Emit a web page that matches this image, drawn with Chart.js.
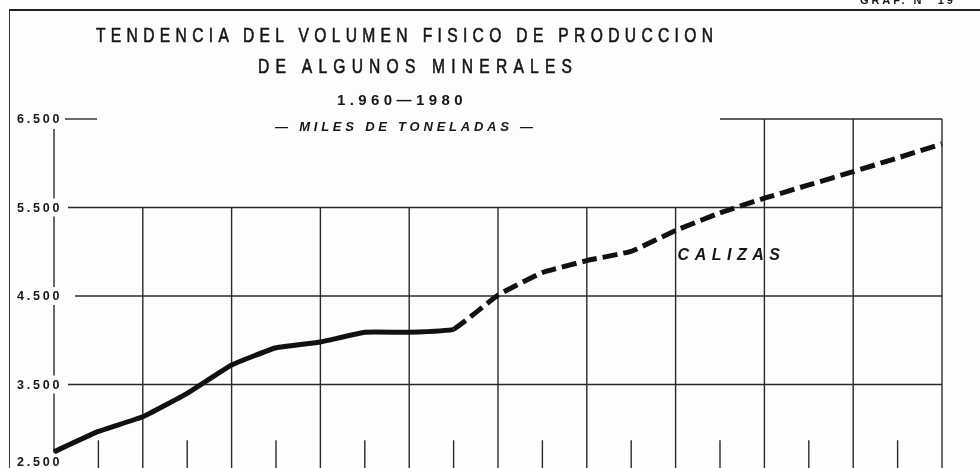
<!DOCTYPE html>
<html>
<head>
<meta charset="utf-8">
<script src="https://cdn.jsdelivr.net/npm/chart.js@4.4.1/dist/chart.umd.min.js"></script>
<style>
  html, body { margin: 0; padding: 0; background: #fdfdfd; overflow: hidden; }
  #wrap { position: relative; width: 980px; height: 468px; overflow: hidden; }
  #c { position: absolute; left: 0; top: 0; }
  .t { position: absolute; white-space: nowrap; line-height: 1; color: #161616; transform-origin: 0 0; }
  .cond { font-family: "Liberation Sans", Arial, sans-serif; font-size: 20px; -webkit-text-stroke: 0.6px #161616; }
  .bold { font-family: "Liberation Sans", Arial, sans-serif; font-weight: bold; }
  #frame { position: absolute; left: 9px; top: 9px; width: 1000px; height: 500px;
           border-top: 2px solid #222; border-left: 1.5px solid #333; }
</style>
</head>
<body>
<div id="wrap">
  <canvas id="c" width="980" height="480"></canvas>
  <div id="frame"></div>
  <div class="t bold fit" style="left:860px; top:-5px; font-size:11px;" data-w="96">GRAF. N° 19</div>
  <div class="t cond fit" style="left:96px; top:25px;" data-w="622" data-sx="0.78">TENDENCIA DEL VOLUMEN FISICO DE PRODUCCION</div>
  <div class="t cond fit" style="left:258px; top:56px;" data-w="320" data-sx="0.78">DE ALGUNOS MINERALES</div>
  <div class="t bold fit" style="left:337px; top:92px; font-size:15px;" data-w="130">1.960—1980</div>
  <div class="t bold fit" style="left:275px; top:120px; font-size:13px; font-style:italic;" data-w="262">— MILES DE TONELADAS —</div>
</div>
<script>
// Calizas, miles de toneladas, 1960-1980
const years = [1960, 1961, 1962, 1963, 1964, 1965, 1966, 1967, 1968, 1969, 1970,
               1971, 1972, 1973, 1974, 1975, 1976, 1977, 1978, 1979, 1980];
const calizas = [2740, 2970, 3135, 3400, 3720, 3915, 3980, 4090, 4090, 4125, 4510,
                 4765, 4900, 5005, 5240, 5440, 5605, 5755, 5905, 6060, 6220];
const solidUntil = 1969;   // after this year the line is dashed (estimates)
const yTicks = [2500, 3500, 4500, 5500, 6500];
const majorYears = [1962, 1964, 1966, 1968, 1970, 1972, 1974, 1976, 1978, 1980];
const minorYears = [1961, 1963, 1965, 1967, 1969, 1971, 1973, 1975, 1977, 1979];
const tallYears = [1976, 1978, 1980];  // verticals that go up to 6.500

// stretch header texts to the measured widths
document.querySelectorAll('.fit').forEach(el => {
  const sx = +(el.dataset.sx || 1);
  el.style.letterSpacing = '0px';
  const w = el.offsetWidth;
  el.style.letterSpacing = ((+el.dataset.w / sx - w) / el.textContent.length) + 'px';
  if (sx !== 1) el.style.transform = 'scaleX(' + sx + ')';
});

const fmt = v => String(v).replace(/\B(?=(\d{3})+(?!\d))/g, '.');
const ink = '#2a2a2a';

// draws the hand-ruled grid, tick labels and the series label
const paperGrid = {
  id: 'paperGrid',
  beforeDatasetsDraw(chart) {
    const { ctx, chartArea: a, scales: { x, y } } = chart;
    ctx.save();
    ctx.strokeStyle = ink;
    ctx.lineWidth = 1.4;
    const line = (x0, y0, x1, y1) => {
      ctx.beginPath(); ctx.moveTo(x0, y0); ctx.lineTo(x1, y1); ctx.stroke();
    };

    // left axis
    line(a.left, y.getPixelForValue(6500) + 10, a.left, a.bottom);

    // horizontal lines
    yTicks.forEach(v => {
      const py = y.getPixelForValue(v);
      if (v === 6500) {
        line(a.left + 11, py, a.left + 43, py);
        line(x.getPixelForValue(1975), py, a.right, py);
      } else if (v === 4500) {
        line(a.left + 21, py, a.right, py);
      } else {
        line(a.left + 14, py, a.right, py);
      }
    });

    // major verticals every two years
    majorYears.forEach(yr => {
      const px = x.getPixelForValue(yr);
      const top = y.getPixelForValue(tallYears.includes(yr) ? 6500 : 5500);
      line(px, top, px, a.bottom);
    });

    // short ticks on odd years
    minorYears.forEach(yr => {
      const px = x.getPixelForValue(yr);
      line(px, y.getPixelForValue(2870), px, a.bottom);
    });

    // tick labels with a paper-coloured gap behind them
    ctx.font = 'bold 12.5px "Liberation Sans", Arial, sans-serif';
    ctx.letterSpacing = '2.8px';
    ctx.textAlign = 'left';
    yTicks.forEach(v => {
      let py = y.getPixelForValue(v);
      const txt = fmt(v);
      const w = ctx.measureText(txt).width;
      if (v === yTicks[0]) py -= 11;
      ctx.fillStyle = '#fdfdfd';
      ctx.fillRect(a.left - 37, py - 9, w, 18);
      ctx.fillStyle = '#161616';
      ctx.textBaseline = 'middle';
      ctx.fillText(txt, a.left - 37, py + 1);
    });

    // series label
    ctx.font = 'italic bold 16px "Liberation Sans", Arial, sans-serif';
    ctx.letterSpacing = '5.5px';
    ctx.fillStyle = '#161616';
    ctx.textBaseline = 'middle';
    ctx.fillText('CALIZAS', x.getPixelForValue(1974) + 2, y.getPixelForValue(4953));
    ctx.restore();
  }
};

new Chart(document.getElementById('c'), {
  type: 'line',
  data: {
    datasets: [{
      label: 'Calizas',
      data: years.map((yr, i) => ({ x: yr, y: calizas[i] })),
      borderColor: '#111',
      borderWidth: 5,
      pointRadius: 0,
      tension: 0.1,
      borderCapStyle: 'butt',
      borderJoinStyle: 'round',
      clip: false,
      segment: {
        borderDash: c => years[c.p0DataIndex] >= solidUntil ? [15, 6] : undefined
      }
    }]
  },
  options: {
    responsive: false,
    animation: false,
    devicePixelRatio: 1,
    layout: { padding: { left: 54, right: 38, top: 119, bottom: 7 } },
    scales: {
      x: { type: 'linear', min: 1960, max: 1980, display: false },
      y: { type: 'linear', min: 2500, max: 6500, display: false }
    },
    plugins: { legend: { display: false }, tooltip: { enabled: false } }
  },
  plugins: [paperGrid]
});
</script>
</body>
</html>
